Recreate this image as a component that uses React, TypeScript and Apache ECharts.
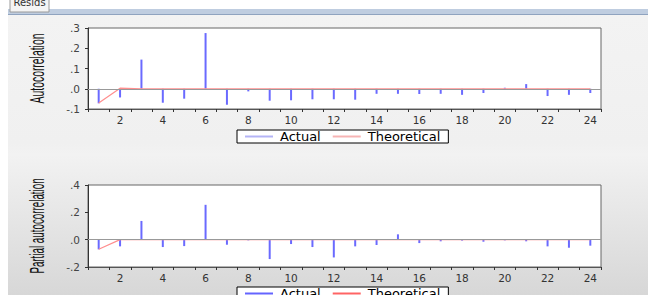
import React, { useEffect, useRef } from "react";
import * as echarts from "echarts";

const lags = ["1","2","3","4","5","6","7","8","9","10","11","12","13","14","15","16","17","18","19","20","21","22","23","24"];

const acfActual = [-0.072, -0.043, 0.144, -0.069, -0.049, 0.275, -0.079, -0.013, -0.059, -0.057, -0.052, -0.052, -0.054, -0.025, -0.025, -0.026, -0.025, -0.03, -0.021, 0.005, 0.023, -0.036, -0.03, -0.021];
const acfTheoretical = [-0.07, 0.003, 0, 0, 0, 0, 0, 0, 0, 0, 0, 0, 0, 0, 0, 0, 0, 0, 0, 0, 0, 0, 0, 0];

const pacfActual = [-0.071, -0.049, 0.137, -0.054, -0.047, 0.255, -0.037, -0.005, -0.142, -0.032, -0.054, -0.13, -0.049, -0.039, 0.039, -0.025, -0.012, -0.007, -0.015, -0.005, -0.012, -0.049, -0.059, -0.044];
const pacfTheoretical = [-0.07, 0, 0, 0, 0, 0, 0, 0, 0, 0, 0, 0, 0, 0, 0, 0, 0, 0, 0, 0, 0, 0, 0, 0];

const acfTicks = { min: -0.1, max: 0.3, interval: 0.1 };
const pacfTicks = { min: -0.2, max: 0.4, interval: 0.2 };

const fmt = (v: number) => v.toFixed(1).replace(/^(-?)0\./, "$1.");

const BLUE = "#6a6aff";
const RED = "#ff8e8e";

export default function App() {
  const ref = useRef<HTMLDivElement>(null);
  useEffect(() => {
    if (!ref.current) return;
    const chart = echarts.init(ref.current, null, { renderer: "svg" });
    const xAxisBase = (gridIndex: number) => ({
      type: "category",
      gridIndex,
      data: lags,
      boundaryGap: true,
      axisLine: { show: true, onZero: false, lineStyle: { color: "#555", width: 1 } },
      axisTick: { show: true, interval: 0, length: 3, lineStyle: { color: "#333" } },
      axisLabel: {
        interval: (i: number) => i % 2 === 1,
        fontSize: 10.5,
        fontFamily: "DejaVu Sans",
        color: "#333",
        margin: 5,
      },
      splitLine: { show: false },
    });
    const yAxisBase = (gridIndex: number, t: any) => ({
      type: "value",
      gridIndex,
      min: t.min,
      max: t.max,
      interval: t.interval,
      axisLine: { show: true, onZero: false, lineStyle: { color: "#333" } },
      axisTick: { show: true, length: 3, lineStyle: { color: "#333" } },
      axisLabel: { formatter: fmt, fontSize: 10.5, fontFamily: "DejaVu Sans", color: "#444", margin: 8 },
      splitLine: { show: false },
    });
    const zeroLine = {
      silent: true,
      symbol: "none",
      label: { show: false },
      lineStyle: { color: "#999", type: "solid", width: 1 },
      data: [{ yAxis: 0 }],
    };
    const legendBase = (top: number, c1: string, c2: string) => ({
      left: 237,
      top,
      orient: "horizontal",
      selectedMode: false,
      borderColor: "#000",
      borderWidth: 1,
      backgroundColor: "#fff",
      padding: [0, 8, 0, 8],
      itemWidth: 28,
      itemHeight: 2,
      itemGap: 12,
      icon: "rect",
      textStyle: { fontSize: 13, lineHeight: 12, fontFamily: "DejaVu Sans", color: "#000", padding: [0, 0, 0, 2] },
      data: [
        { name: "Actual", itemStyle: { color: c1 } },
        { name: "Theoretical", itemStyle: { color: c2 } },
      ],
    });
    chart.setOption({
      animation: false,
      backgroundColor: "#ffffff",
      graphic: [
        {
          type: "rect",
          z: -10,
          shape: { x: 8, y: 14, width: 640, height: 281 },
          style: {
            fill: new echarts.graphic.LinearGradient(0, 0, 0, 1, [
              { offset: 0, color: "#f3f3f3" },
              { offset: 0.46, color: "#f0f0f0" },
              { offset: 0.5, color: "#f2f2f2" },
              { offset: 1, color: "#d7d7d7" },
            ]),
          },
        },
        { type: "rect", z: -9, shape: { x: 8, y: 9, width: 640, height: 5 }, style: { fill: "#bfcde0" } },
        { type: "line", z: -9, shape: { x1: 8, y1: 14.5, x2: 648, y2: 14.5 }, style: { stroke: "#8fa3bf", lineWidth: 1 } },
        { type: "rect", z: -8, shape: { x: 10, y: -2, width: 39, height: 14 }, style: { fill: "#f4f4f4", stroke: "#9a9a9a", lineWidth: 1 } },
        {
          type: "text",
          z: -7,
          x: 29.5,
          y: 2,
          style: { text: "Resids", fontSize: 10, fontFamily: "DejaVu Sans", fill: "#333", textAlign: "center", textVerticalAlign: "middle" },
        },
        {
          type: "text",
          x: 37,
          y: 68.5,
          rotation: Math.PI / 2,
          scaleX: 0.52,
          style: { text: "Autocorrelation", fontSize: 20, fontFamily: "Liberation Sans", fill: "#111", textAlign: "center", textVerticalAlign: "middle" },
        },
        {
          type: "text",
          x: 37.5,
          y: 226,
          rotation: Math.PI / 2,
          scaleX: 0.49,
          style: { text: "Partial autocorrelation", fontSize: 20, fontFamily: "Liberation Sans", fill: "#111", textAlign: "center", textVerticalAlign: "middle" },
        },
      ],
      grid: [
        { left: 88, top: 28, width: 513, height: 81, show: true, backgroundColor: "#fff", borderColor: "#666", borderWidth: 1 },
        { left: 88, top: 185, width: 513, height: 82, show: true, backgroundColor: "#fff", borderColor: "#666", borderWidth: 1 },
      ],
      xAxis: [xAxisBase(0), xAxisBase(1)],
      yAxis: [yAxisBase(0, acfTicks), yAxisBase(1, pacfTicks)],
      legend: [legendBase(130, "#b4b4f6", "#f6b4b4"), legendBase(287, "#6464ff", "#ff6464")],
      series: [
        {
          name: "Actual",
          type: "bar",
          xAxisIndex: 0,
          yAxisIndex: 0,
          data: acfActual,
          barWidth: 2,
          itemStyle: { color: BLUE },
          z: 3,
          markLine: zeroLine,
        },
        {
          name: "Theoretical",
          type: "line",
          xAxisIndex: 0,
          yAxisIndex: 0,
          data: acfTheoretical,
          symbol: "none",
          lineStyle: { color: RED, width: 1.2 },
          itemStyle: { color: RED },
          z: 4,
        },
        {
          name: "Actual",
          type: "bar",
          xAxisIndex: 1,
          yAxisIndex: 1,
          data: pacfActual,
          barWidth: 2,
          itemStyle: { color: BLUE },
          z: 3,
          markLine: zeroLine,
        },
        {
          name: "Theoretical",
          type: "line",
          xAxisIndex: 1,
          yAxisIndex: 1,
          data: pacfTheoretical,
          symbol: "none",
          lineStyle: { color: RED, width: 1.2 },
          itemStyle: { color: RED },
          z: 4,
        },
      ],
    });
    return () => chart.dispose();
  }, []);
  return <div ref={ref} style={{ position: "fixed", left: 0, top: 0, width: 648, height: 295 }} />;
}
